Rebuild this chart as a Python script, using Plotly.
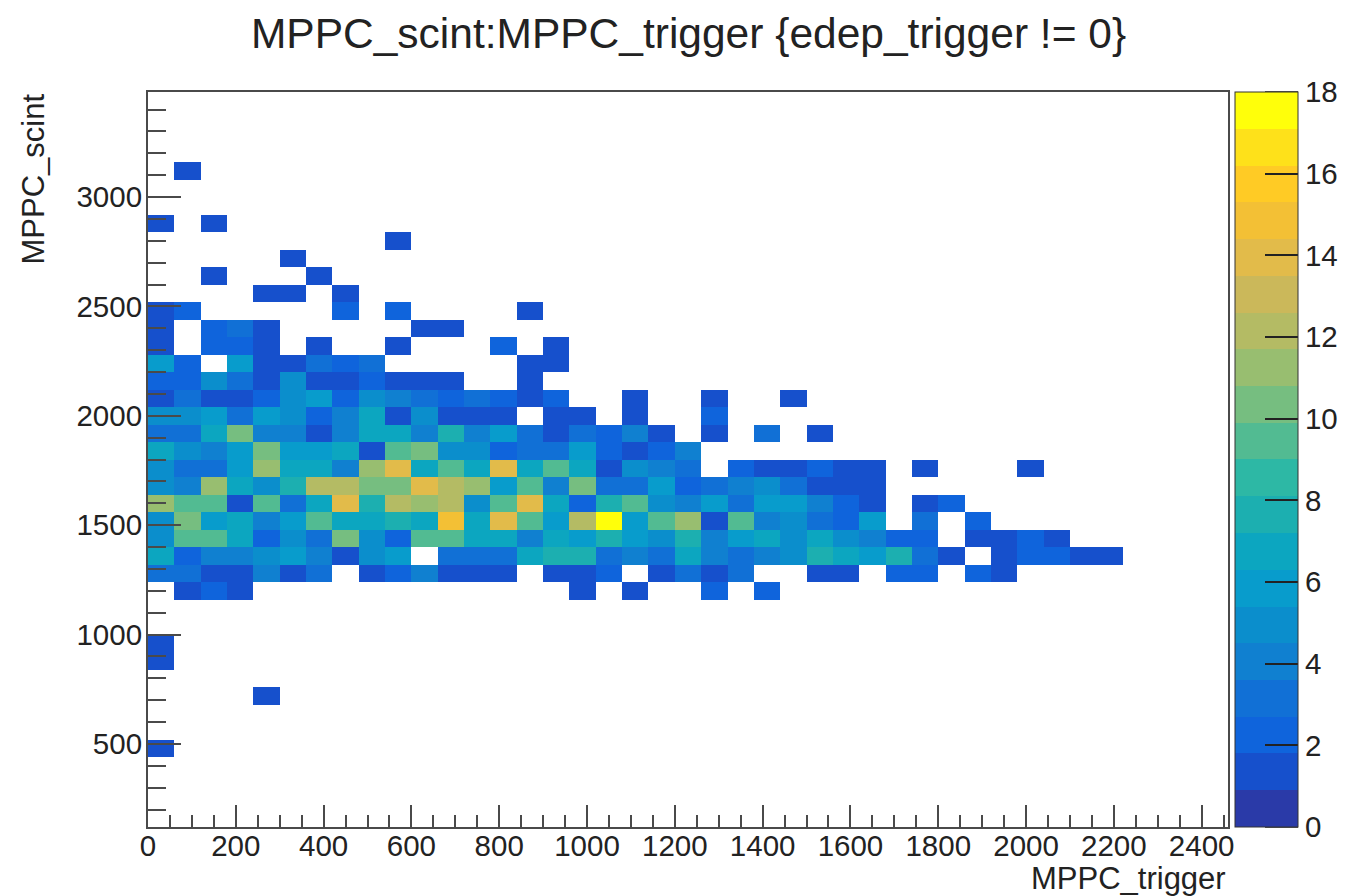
import numpy as np
import plotly.graph_objects as go

TITLE = "MPPC_scint:MPPC_trigger {edep_trigger != 0}"
X_TITLE = "MPPC_trigger"
Y_TITLE = "MPPC_scint"

# counts per column, one list per row of the histogram (row number counted from the bottom)
row_04 = [1]
row_07 = [0, 0, 0, 0, 1]
row_09 = [1]
row_10 = [1]
row_13 = [0, 1, 2, 1, 0, 0, 0, 0, 0, 0, 0, 0, 0, 0, 0, 0, 1, 0, 1, 0, 0, 2, 0, 2]
row_14 = [3, 3, 1, 1, 4, 1, 3, 0, 1, 2, 4, 1, 1, 1, 0, 1, 1, 2, 0, 1, 3, 1, 3, 0, 0, 1, 1, 0, 2, 2, 0, 2, 1]
row_15 = [7, 2, 4, 4, 5, 6, 4, 1, 5, 6, 0, 3, 3, 3, 7, 8, 8, 3, 4, 3, 7, 4, 3, 4, 5, 8, 7, 6, 8, 3, 1, 0, 1, 2, 2, 1, 1]
row_16 = [5, 9, 9, 7, 2, 5, 3, 10, 5, 2, 9, 9, 7, 7, 4, 7, 6, 8, 6, 5, 8, 4, 6, 7, 5, 7, 5, 4, 2, 2, 0, 1, 1, 2, 1]
row_17 = [5, 10, 6, 7, 4, 6, 9, 7, 7, 8, 7, 15, 7, 14, 9, 6, 12, 18, 6, 9, 11, 1, 9, 4, 5, 3, 2, 6, 0, 3, 0, 2]
row_18 = [11, 9, 9, 1, 9, 3, 7, 14, 8, 12, 11, 12, 5, 9, 14, 7, 2, 8, 9, 5, 4, 6, 3, 6, 6, 4, 2, 1, 0, 1, 2]
row_19 = [5, 4, 11, 7, 5, 8, 12, 12, 10, 10, 14, 12, 11, 6, 9, 4, 10, 3, 3, 6, 2, 3, 4, 5, 3, 1, 1, 1]
row_20 = [5, 3, 3, 6, 11, 7, 7, 4, 11, 14, 7, 9, 7, 14, 7, 9, 7, 1, 5, 4, 3, 0, 2, 1, 1, 2, 1, 1, 0, 1, 0, 0, 0, 1]
row_21 = [7, 5, 4, 6, 10, 6, 6, 7, 1, 9, 10, 5, 5, 2, 3, 3, 6, 2, 1, 2, 4]
row_22 = [3, 3, 7, 10, 4, 4, 1, 4, 7, 7, 4, 8, 4, 6, 3, 1, 3, 2, 4, 1, 0, 1, 0, 3, 0, 1]
row_23 = [5, 5, 6, 3, 6, 5, 2, 4, 7, 1, 5, 1, 1, 1, 0, 1, 1, 0, 1, 0, 0, 2]
row_24 = [1, 3, 1, 1, 2, 5, 6, 2, 5, 4, 3, 2, 3, 2, 1, 2, 0, 0, 1, 0, 0, 1, 0, 0, 1]
row_25 = [2, 2, 5, 3, 1, 5, 1, 1, 2, 1, 1, 1, 0, 0, 1]
row_26 = [6, 2, 0, 6, 1, 1, 3, 2, 3, 0, 0, 0, 0, 0, 1, 1]
row_27 = [1, 0, 2, 2, 1, 0, 1, 0, 0, 1, 0, 0, 0, 2, 0, 1]
row_28 = [1, 0, 2, 3, 1, 0, 0, 0, 0, 0, 1, 1]
row_29 = [1, 2, 0, 0, 0, 0, 0, 2, 0, 2, 0, 0, 0, 0, 1]
row_30 = [0, 0, 0, 0, 1, 1, 0, 1]
row_31 = [0, 0, 1, 0, 0, 0, 1]
row_32 = [0, 0, 0, 0, 0, 1]
row_33 = [0, 0, 0, 0, 0, 0, 0, 0, 0, 1]
row_34 = [1, 0, 1]
row_37 = [0, 1]

rows = {4: row_04, 7: row_07, 9: row_09, 10: row_10, 13: row_13, 14: row_14, 15: row_15,
        16: row_16, 17: row_17, 18: row_18, 19: row_19, 20: row_20, 21: row_21, 22: row_22,
        23: row_23, 24: row_24, 25: row_25, 26: row_26, 27: row_27, 28: row_28, 29: row_29,
        30: row_30, 31: row_31, 32: row_32, 33: row_33, 34: row_34, 37: row_37}

n_x, n_y = 41, 42
x_start, x_step = 0, 60
y_start, y_step = 120, 80

z = np.full((n_y, n_x), np.nan)
for k, values in rows.items():
    for c, v in enumerate(values):
        if v:
            z[k, c] = v

band_colors = ["#2a3aa8", "#1650cc", "#0f64dc", "#1170d6", "#1080d0", "#0b8ecc", "#089ccc",
               "#0ca6c0", "#1cafb0", "#2db8a5", "#52bb92", "#76be80", "#98be70", "#b4bb64",
               "#cbb85a", "#e2bb4a", "#f3c035", "#ffcb25", "#fee11a", "#ffff0a"]
scale = []
for i, c in enumerate(band_colors):
    scale += [[i / 20, c], [(i + 1) / 20, c]]

W, H = 1346, 896
L, R, T, B = 148, 1228, 92, 827

font_name = "Liberation Sans"
ink = "#222222"
frame = "#4a4a4a"
tick_font = dict(family=font_name, size=29.5, color=ink)
label_font = dict(family=font_name, size=31, color=ink)

fig = go.Figure(go.Heatmap(
    z=z, x0=x_start + x_step / 2, dx=x_step, y0=y_start + y_step / 2, dy=y_step,
    zmin=-0.001, zmax=18, colorscale=scale, hoverongaps=False,
    colorbar=dict(
        x=(1235 - L) / (R - L), xanchor="left", xpad=0, y=0, yanchor="bottom", ypad=0,
        len=1, lenmode="fraction", thickness=63, thicknessmode="pixels",
        outlinewidth=1, outlinecolor="#333333",
        tickmode="array", tickvals=list(range(0, 19, 2)),
        ticks="inside", ticklen=33, tickwidth=1.5, tickcolor="#222222",
        tickfont=tick_font,
    ),
))

fig.update_xaxes(
    range=[0, 2460], showgrid=False, zeroline=False, showline=True, mirror=True,
    linecolor=frame, linewidth=2, ticks="inside", ticklen=22, tickwidth=1.5, tickcolor=frame,
    tick0=0, dtick=200, tickfont=tick_font, ticklabelstandoff=-8,
    minor=dict(ticks="inside", dtick=50, ticklen=12, tickwidth=1.5, tickcolor=frame, showgrid=False),
)
fig.update_yaxes(
    range=[120, 3480], showgrid=False, zeroline=False, showline=True, mirror=True,
    linecolor=frame, linewidth=2, ticks="inside", ticklen=33, tickwidth=1.5, tickcolor=frame,
    tick0=0, dtick=500, tickfont=tick_font, ticklabelstandoff=-2,
    minor=dict(ticks="inside", dtick=100, ticklen=18, tickwidth=1.5, tickcolor=frame, showgrid=False),
)

fig.update_layout(
    width=W, height=H, autosize=False,
    margin=dict(l=L, r=W - R, t=T, b=H - B, autoexpand=False),
    paper_bgcolor="white", plot_bgcolor="white",
    title=dict(text=TITLE, x=688.5 / W, xanchor="center", y=1 - 33 / H, yanchor="middle",
               font=dict(family=font_name, size=42.5, color=ink)),
    annotations=[
        dict(text=X_TITLE, xref="paper", yref="paper", x=1, xanchor="right", y=-(878 - B) / (B - T), yanchor="middle",
             showarrow=False, font=label_font),
        dict(text=Y_TITLE, xref="paper", yref="paper", x=-(L - 33) / (R - L), xanchor="center", y=1, yanchor="top",
             textangle=-90, showarrow=False, font=label_font),
    ],
    shapes=[
        dict(type="line", xref="paper", yref="paper", x0=(1265 - L) / (R - L), x1=(1298 - L) / (R - L), y0=1, y1=1,
             line=dict(color="#222222", width=1.5)),
        dict(type="line", xref="paper", yref="paper", x0=(1265 - L) / (R - L), x1=(1298 - L) / (R - L), y0=0, y1=0,
             line=dict(color="#222222", width=1.5)),
    ],
)

fig.write_html("out.html", config=dict(displayModeBar=False),
               post_script="document.body.style.margin='0';document.body.style.overflow='hidden';")
